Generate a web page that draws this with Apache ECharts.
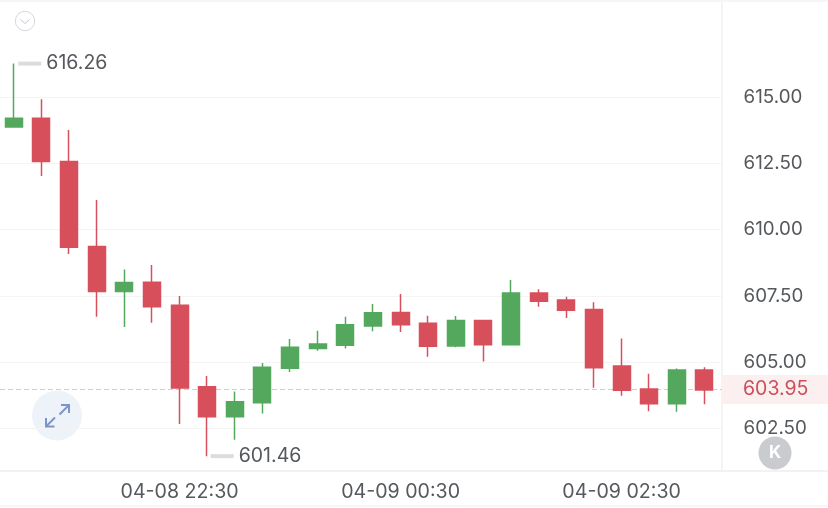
<!DOCTYPE html>
<html>
<head>
<meta charset="utf-8">
<title>K线</title>
<script src="https://cdn.jsdelivr.net/npm/echarts@6/dist/echarts.min.js"></script>
<style>
  html, body { margin: 0; padding: 0; background: #fff; }
  #myChart { width: 828px; height: 508px; }
</style>
</head>
<body>
<div id="myChart"></div>
<script>
// 15分钟K线
var times = ['04-08 21:00','04-08 21:15','04-08 21:30','04-08 21:45','04-08 22:00','04-08 22:15','04-08 22:30','04-08 22:45',
  '04-08 23:00','04-08 23:15','04-08 23:30','04-08 23:45','04-09 00:00','04-09 00:15','04-09 00:30','04-09 00:45',
  '04-09 01:00','04-09 01:15','04-09 01:30','04-09 01:45','04-09 02:00','04-09 02:15','04-09 02:30','04-09 02:45',
  '04-09 03:00','04-09 03:15'];
var opens  = [613.87,614.20,612.57,609.36,607.67,608.02,607.15,604.08,602.95,603.47,604.77,605.52,605.64,606.37,606.88,606.47,605.61,606.57,605.66,607.61,607.35,606.99,604.86,603.99,603.44,604.71];
var closes = [614.20,612.57,609.34,607.67,608.01,607.09,604.03,602.95,603.51,604.81,605.57,605.69,606.41,606.87,606.41,605.60,606.57,605.66,607.61,607.30,606.96,604.79,603.94,603.44,604.71,603.95];
var lows   = [613.87,612.02,609.08,606.72,606.33,606.49,602.67,601.46,602.08,603.07,604.63,605.43,605.52,606.17,606.14,605.21,605.57,605.03,605.66,607.09,606.67,604.04,603.74,603.15,603.13,603.42];
var highs  = [616.26,614.92,613.76,611.12,608.50,608.67,607.50,604.48,603.90,604.97,605.88,606.19,606.72,607.20,607.57,606.75,606.74,606.57,608.10,607.75,607.47,607.26,605.90,604.57,604.76,604.81];
var yTicks = [602.5,605,607.5,610,612.5,615];
var lastPrice = 603.95;
var maxIndex = 0, maxPrice = 616.26;
var minIndex = 7, minPrice = 601.46;

var candles = [];
for (var i = 0; i < times.length; i++) {
  candles.push([opens[i], closes[i], lows[i], highs[i]]);
}

var textColor = '#55585c';
var fontName = 'Inter';
var yMin = 600.90, yMax = 618.62;

// 最高最低价标注
function extremePoint(name, idx, val, offset) {
  return {
    name: name,
    coord: [idx, val],
    symbol: 'rect',
    symbolSize: [23, 4],
    symbolOffset: [offset, 0],
    itemStyle: { color: '#dcdcdc' },
    label: {
      show: true,
      position: 'right',
      distance: 5,
      formatter: val.toFixed(2),
      color: textColor,
      fontFamily: fontName,
      fontSize: 19.5,
      padding: [4, 0, 0, 0]
    }
  };
}

var myChart = echarts.init(document.getElementById('myChart'));
var option = {
  animation: false,
  backgroundColor: '#ffffff',
  grid: [
    { left: 0, top: 1, width: 722, height: 470 },  // 网格线和右侧价格
    { left: -0.3, top: 1, width: 718.6, height: 470 }  // K线
  ],
  xAxis: [
    {
      gridIndex: 0, type: 'value', min: 0, max: 1,
      axisLabel: { show: false }, axisTick: { show: false }, splitLine: { show: false },
      axisLine: { show: true, onZero: false, lineStyle: { color: '#f2f2f2', width: 2 } }
    },
    {
      gridIndex: 1, type: 'category', data: times,
      axisTick: { show: false }, axisLine: { show: false }, splitLine: { show: false },
      axisLabel: {
        interval: function (idx) { return idx % 8 === 6; },
        color: textColor, fontFamily: fontName, fontSize: 19.6, margin: 11, hideOverlap: false
      }
    }
  ],
  yAxis: [
    {
      gridIndex: 0, type: 'value', position: 'right', min: yMin, max: yMax,
      axisLine: { show: true, onZero: false, lineStyle: { color: '#f4f4f4', width: 2 } },
      axisTick: { show: false, customValues: yTicks },
      splitLine: { show: true, lineStyle: { color: '#f4f4f4', width: 1 } },
      axisLabel: {
        customValues: yTicks, margin: 21.5, color: textColor, fontFamily: fontName, fontSize: 18.8,
        lineHeight: 24, padding: [2, 0, 0, 0],
        formatter: function (v) { return v.toFixed(2); }
      }
    },
    {
      gridIndex: 1, type: 'value', min: yMin, max: yMax,
      axisLine: { show: false }, axisTick: { show: false }, axisLabel: { show: false }, splitLine: { show: false }
    }
  ],
  series: [
    {
      // 当前价虚线，压在K线下面
      type: 'line', xAxisIndex: 0, yAxisIndex: 0, data: [], silent: true, z: 1,
      markLine: {
        silent: true, symbol: 'none', z: 1,
        lineStyle: { type: [5, 3], color: '#cfcfcf', width: 1 },
        data: [{ yAxis: lastPrice + 0.02 }],
        label: {
          show: true, position: 'end', distance: 0,
          formatter: lastPrice.toFixed(2),
          color: '#cc4f5c', fontFamily: fontName, fontSize: 19.5,
          backgroundColor: '#fbf0ef', width: 105, height: 29, lineHeight: 31,
          align: 'left', padding: [0, 0, 0, 21]
        }
      }
    },
    {
      type: 'candlestick', xAxisIndex: 1, yAxisIndex: 1, data: candles, barWidth: 17.5, z: 3,
      itemStyle: {
        color: '#54a85d', color0: '#d84f5c',
        borderColor: '#54a85d', borderColor0: '#d84f5c', borderWidth: 1.5
      },
      markPoint: {
        silent: true,
        data: [extremePoint('max', maxIndex, maxPrice, 16), extremePoint('min', minIndex, minPrice, 15)]
      }
    }
  ],
  graphic: [
    { type: 'rect', shape: { x: 0, y: 0, width: 828, height: 2 }, style: { fill: '#f6f6f6' } },
    { type: 'rect', shape: { x: 0, y: 505, width: 828, height: 2 }, style: { fill: '#f6f6f6' } },
    { type: 'rect', shape: { x: 723, y: 470, width: 105, height: 2 }, style: { fill: '#f2f2f2' } },
    // 折叠按钮
    { type: 'circle', shape: { cx: 25, cy: 21, r: 9.7 }, style: { fill: '#fff', stroke: '#d5d8de', lineWidth: 1 } },
    { type: 'polyline', shape: { points: [[20.5, 19.5], [25, 23.5], [29.5, 19.5]] }, style: { fill: null, stroke: '#c2c7d0', lineWidth: 1 } },
    // 全屏按钮
    { type: 'circle', shape: { cx: 57, cy: 415.5, r: 25 }, style: { fill: '#eef3fa' } },
    { type: 'polyline', shape: { points: [[61, 405], [69, 405], [69, 413]] }, style: { fill: null, stroke: '#7c95c4', lineWidth: 2 } },
    { type: 'polyline', shape: { points: [[69, 405], [59.5, 414.5]] }, style: { fill: null, stroke: '#7c95c4', lineWidth: 2 } },
    { type: 'polyline', shape: { points: [[46, 418], [46, 426.5], [54.5, 426.5]] }, style: { fill: null, stroke: '#7c95c4', lineWidth: 2 } },
    { type: 'polyline', shape: { points: [[46, 426.5], [55, 417.5]] }, style: { fill: null, stroke: '#7c95c4', lineWidth: 2 } },
    // K按钮
    { type: 'circle', shape: { cx: 775, cy: 453, r: 16.5 }, style: { fill: '#c9cbce' } },
    { type: 'text', style: { x: 775, y: 453, text: 'K', fill: '#fff', fontSize: 17, fontWeight: 'bold', fontFamily: fontName, align: 'center', verticalAlign: 'middle' } }
  ]
};
myChart.setOption(option);
window.onresize = myChart.resize;
</script>
</body>
</html>
